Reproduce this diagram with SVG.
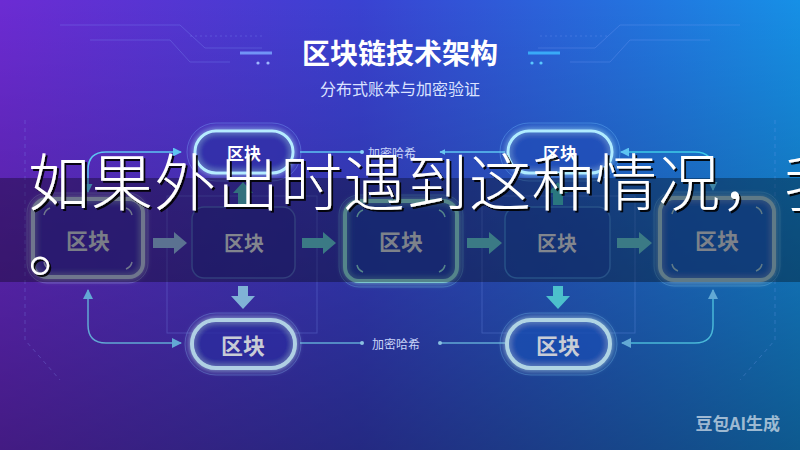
<svg xmlns="http://www.w3.org/2000/svg" width="800" height="450" viewBox="0 0 800 450">
<defs>
<linearGradient id="bg" x1="0" y1="0" x2="1" y2="0">
<stop offset="0" stop-color="#6c2bd3"/>
<stop offset="0.45" stop-color="#3a42d2"/>
<stop offset="1" stop-color="#1690e6"/>
</linearGradient>
<linearGradient id="shade" x1="0" y1="0" x2="0" y2="1">
<stop offset="0" stop-color="#000" stop-opacity="0"/>
<stop offset="1" stop-color="#000" stop-opacity="0.38"/>
</linearGradient>
<filter id="glow" x="-30%" y="-60%" width="160%" height="220%">
<feGaussianBlur stdDeviation="3" result="b"/>
<feMerge><feMergeNode in="b"/><feMergeNode in="SourceGraphic"/></feMerge>
</filter>
<filter id="shadow" x="-5%" y="-20%" width="110%" height="140%">
<feDropShadow dx="2" dy="2" stdDeviation="0.5" flood-color="#000" flood-opacity="0.9"/>
</filter>
<marker id="mTop" viewBox="0 0 10 10" refX="9" refY="5" markerWidth="9" markerHeight="9" markerUnits="userSpaceOnUse" orient="auto-start-reverse">
<path d="M0 0 L10 5 L0 10 Z" fill="#5ec4f2"/>
</marker>
<marker id="mBot" viewBox="0 0 10 10" refX="9" refY="5" markerWidth="10" markerHeight="10" markerUnits="userSpaceOnUse" orient="auto-start-reverse">
<path d="M0 0 L10 5 L0 10 Z" fill="#62a8d4"/>
</marker>
<marker id="mSmall" viewBox="0 0 10 10" refX="9" refY="5" markerWidth="6" markerHeight="6" markerUnits="userSpaceOnUse" orient="auto">
<path d="M0 0 L10 5 L0 10 Z" fill="#6ac8f0"/>
</marker>
<style>
.lbl{font-family:"Noto Sans CJK SC","Noto Sans",sans-serif;font-weight:700;text-anchor:middle;dominant-baseline:central}
.small{font-family:"Noto Sans CJK SC","Noto Sans",sans-serif;font-size:12px;fill:#c8d4f8;dominant-baseline:central}
.conn{fill:none;stroke-width:1.5}
.faint{fill:none;stroke:#8aa6ff;stroke-opacity:0.25;stroke-width:1}
</style>
</defs>

<rect x="0" y="0" width="800" height="450" fill="url(#bg)"/>
<rect x="0" y="0" width="800" height="450" fill="url(#shade)"/>

<!-- title decorations -->
<g id="decor">
<path class="faint" d="M60 25 H180 L205 48 H262"/>
<path class="faint" d="M90 40 H170 L190 62 H230"/>
<path class="faint" d="M190 36 H262" stroke-dasharray="2 3"/>
<path d="M240 53 H272" stroke="#7aa4ff" stroke-width="3" opacity="0.85"/>
<circle cx="258" cy="63" r="1.6" fill="#9fb8ff"/>
<circle cx="268" cy="63" r="1.6" fill="#9fb8ff"/>
<path class="faint" d="M740 25 H620 L595 48 H538"/>
<path class="faint" d="M710 40 H630 L610 62 H570"/>
<path class="faint" d="M540 36 H610" stroke-dasharray="2 3"/>
<path d="M528 53 H560" stroke="#3cb8ff" stroke-width="3" opacity="0.85"/>
<circle cx="532" cy="63" r="1.6" fill="#5ac8ff"/>
<circle cx="541" cy="63" r="1.6" fill="#5ac8ff"/>
<path class="faint" d="M25 120 V340 L60 380" stroke-dasharray="4 4"/>
<path class="faint" d="M775 120 V340 L740 380" stroke-dasharray="4 4"/>
<rect class="faint" x="167" y="196" width="150" height="137"/>
<rect class="faint" x="482" y="196" width="153" height="137"/>
</g>

<g id="title">
<text x="400" y="52" class="lbl" font-size="28" fill="#ffffff">区块链技术架构</text>
<text x="400" y="88" class="lbl" font-size="16" font-weight="400" fill="#dbe3ff" style="font-weight:400">分布式账本与加密验证</text>
</g>

<!-- connectors -->
<g id="connectors">
<path class="conn" d="M88 192 V170 Q88 152 106 152 H181" stroke="#5ec4f2" marker-start="url(#mTop)" marker-end="url(#mTop)"/>
<path class="conn" d="M300 152 H362" stroke="#5ec4f2"/>
<circle cx="362" cy="152" r="2" fill="#8ad4f6"/>
<path class="conn" d="M505 152 H440" stroke="#5ec4f2" marker-end="url(#mSmall)"/>
<path class="conn" d="M713 190 V170 Q713 152 695 152 H621" stroke="#3fcbe8" marker-start="url(#mTop)" marker-end="url(#mTop)"/>

<path class="conn" d="M88 290 V325 Q88 343 106 343 H181" stroke="#62a8d4" marker-start="url(#mBot)" marker-end="url(#mBot)"/>
<path class="conn" d="M300 343 H362" stroke="#62a8d4"/>
<circle cx="362" cy="343" r="2" fill="#8ac0e0"/>
<path class="conn" d="M505 343 H440" stroke="#62a8d4"/>
<circle cx="440" cy="343" r="2" fill="#8ac0e0"/>
<path class="conn" d="M713 290 V325 Q713 343 695 343 H622" stroke="#4ab8d8" marker-start="url(#mBot)" marker-end="url(#mBot)"/>

<!-- block arrows -->
<path d="M153 238 H174 V232 L187 243 L174 254 V248 H153 Z" fill="#86a8d6"/>
<path d="M302 238 H323 V232 L336 243 L323 254 V248 H302 Z" fill="#58b4c4"/>
<path d="M467 238 H489 V232 L502 243 L489 254 V248 H467 Z" fill="#58b4c4"/>
<path d="M617 238 H639 V232 L652 243 L639 254 V248 H617 Z" fill="#58b4c4"/>
<path d="M238 205 V193 H233 L243 182 L253 193 H248 V205 Z" fill="#4aa6b8"/>
<path d="M553 205 V193 H548 L558 182 L568 193 H563 V205 Z" fill="#3fb0bc"/>
<path d="M238 286 V296 H231 L243 309 L255 296 H248 V286 Z" fill="#80b2d6"/>
<path d="M553 286 V296 H546 L558 309 L570 296 H563 V286 Z" fill="#4cc0cc"/>
<text x="368" y="152" class="small">加密哈希</text>
<text x="372" y="343" class="small">加密哈希</text>
</g>

<!-- top pills -->
<g id="top1">
<rect x="187" y="123" width="114" height="58" rx="29" fill="none" stroke="#7fb0ff" stroke-opacity="0.35" stroke-width="1"/>
<rect x="195" y="131" width="98" height="42" rx="21" fill="#2e2fa8" fill-opacity="0.55" stroke="#b6ecff" stroke-width="3" filter="url(#glow)"/>
<text x="244" y="152" class="lbl" font-size="17" fill="#ffffff">区块</text>
</g>
<g id="top2">
<rect x="500" y="123" width="120" height="58" rx="29" fill="none" stroke="#6fc0ff" stroke-opacity="0.35" stroke-width="1"/>
<rect x="508" y="131" width="104" height="42" rx="21" fill="#1f4cb8" fill-opacity="0.55" stroke="#b0ecff" stroke-width="3" filter="url(#glow)"/>
<text x="560" y="152" class="lbl" font-size="17" fill="#ffffff">区块</text>
</g>

<!-- middle row -->
<g id="b1">
<rect x="27" y="193" width="121" height="90" rx="20" fill="none" stroke="#9aa8e0" stroke-opacity="0.35" stroke-width="1"/>
<rect x="33" y="199" width="110" height="78" rx="14" fill="#3a2aa6" fill-opacity="0.5" stroke="#a4aed0" stroke-width="4" filter="url(#glow)"/>
<path d="M44 215 Q45 210 50 208 M132 215 Q131 210 126 208 M44 262 Q45 267 50 269 M132 262 Q131 267 126 269" fill="none" stroke="#a4aed0" stroke-width="1.5"/>
<text x="88" y="239" class="lbl" font-size="22" fill="#b4b8c8">区块</text>
</g>
<g id="b2">
<rect x="192" y="207" width="103" height="71" rx="12" fill="#2a2896" fill-opacity="0.55" stroke="#4a5cb8" stroke-width="1.5"/>
<text x="244" y="242" class="lbl" font-size="20" fill="#c0c4d2">区块</text>
</g>
<g id="b3">
<rect x="339" y="195" width="124" height="92" rx="20" fill="none" stroke="#6ab8e0" stroke-opacity="0.35" stroke-width="1"/>
<rect x="345" y="201" width="112" height="80" rx="14" fill="#1e3da6" fill-opacity="0.55" stroke="#7cc4cc" stroke-width="4" filter="url(#glow)"/>
<path d="M357 217 Q358 212 363 210 M445 217 Q444 212 439 210 M357 265 Q358 270 363 272 M445 265 Q444 270 439 272" fill="none" stroke="#7cc4cc" stroke-width="1.5"/>
<text x="401" y="240" class="lbl" font-size="22" fill="#b8c0cc">区块</text>
</g>
<g id="b4">
<rect x="505" y="207" width="105" height="71" rx="12" fill="#1b45a8" fill-opacity="0.55" stroke="#3a78c8" stroke-width="1.5"/>
<text x="557" y="242" class="lbl" font-size="20" fill="#c0c6d2">区块</text>
</g>
<g id="b5">
<rect x="654" y="192" width="126" height="94" rx="20" fill="none" stroke="#6ab8e8" stroke-opacity="0.35" stroke-width="1"/>
<rect x="660" y="198" width="114" height="82" rx="14" fill="#1a56b4" fill-opacity="0.55" stroke="#8cb4c8" stroke-width="4" filter="url(#glow)"/>
<path d="M672 214 Q673 209 678 207 M762 214 Q761 209 756 207 M672 264 Q673 269 678 271 M762 264 Q761 269 756 271" fill="none" stroke="#8cb4c8" stroke-width="1.5"/>
<text x="717" y="239" class="lbl" font-size="22" fill="#b8c0cc">区块</text>
</g>

<!-- bottom pills -->
<g id="bot1">
<rect x="185" y="313" width="116" height="62" rx="31" fill="none" stroke="#7aa8e8" stroke-opacity="0.35" stroke-width="1"/>
<rect x="192" y="320" width="103" height="48" rx="24" fill="#2a2a9e" fill-opacity="0.55" stroke="#b0d0e4" stroke-width="4" filter="url(#glow)"/>
<text x="243" y="344" class="lbl" font-size="22" fill="#c8ccd6">区块</text>
</g>
<g id="bot2">
<rect x="500" y="313" width="117" height="62" rx="31" fill="none" stroke="#6ab8e8" stroke-opacity="0.35" stroke-width="1"/>
<rect x="507" y="320" width="103" height="48" rx="24" fill="#1a4cb0" fill-opacity="0.55" stroke="#b0d4e4" stroke-width="4" filter="url(#glow)"/>
<text x="558" y="344" class="lbl" font-size="22" fill="#c8ccd6">区块</text>
</g>

<!-- overlay band and caption -->
<rect x="0" y="178" width="800" height="104" fill="#000" fill-opacity="0.32"/>
<g id="caption" filter="url(#shadow)">
<text x="28" y="206" font-family="'Noto Sans CJK SC','Noto Sans',sans-serif" font-weight="300" font-size="62" letter-spacing="1" fill="#ffffff">如果外出时遇到这种情况，我</text>
<text x="28" y="272" font-family="'Noto Sans CJK SC','Noto Sans',sans-serif" font-weight="300" font-size="62" fill="#ffffff">。</text>
</g>

<text x="780" y="422" font-family="'Noto Sans CJK SC','Noto Sans',sans-serif" font-weight="700" font-size="17" fill="#ffffff" fill-opacity="0.6" text-anchor="end" dominant-baseline="central">豆包AI生成</text>
</svg>
